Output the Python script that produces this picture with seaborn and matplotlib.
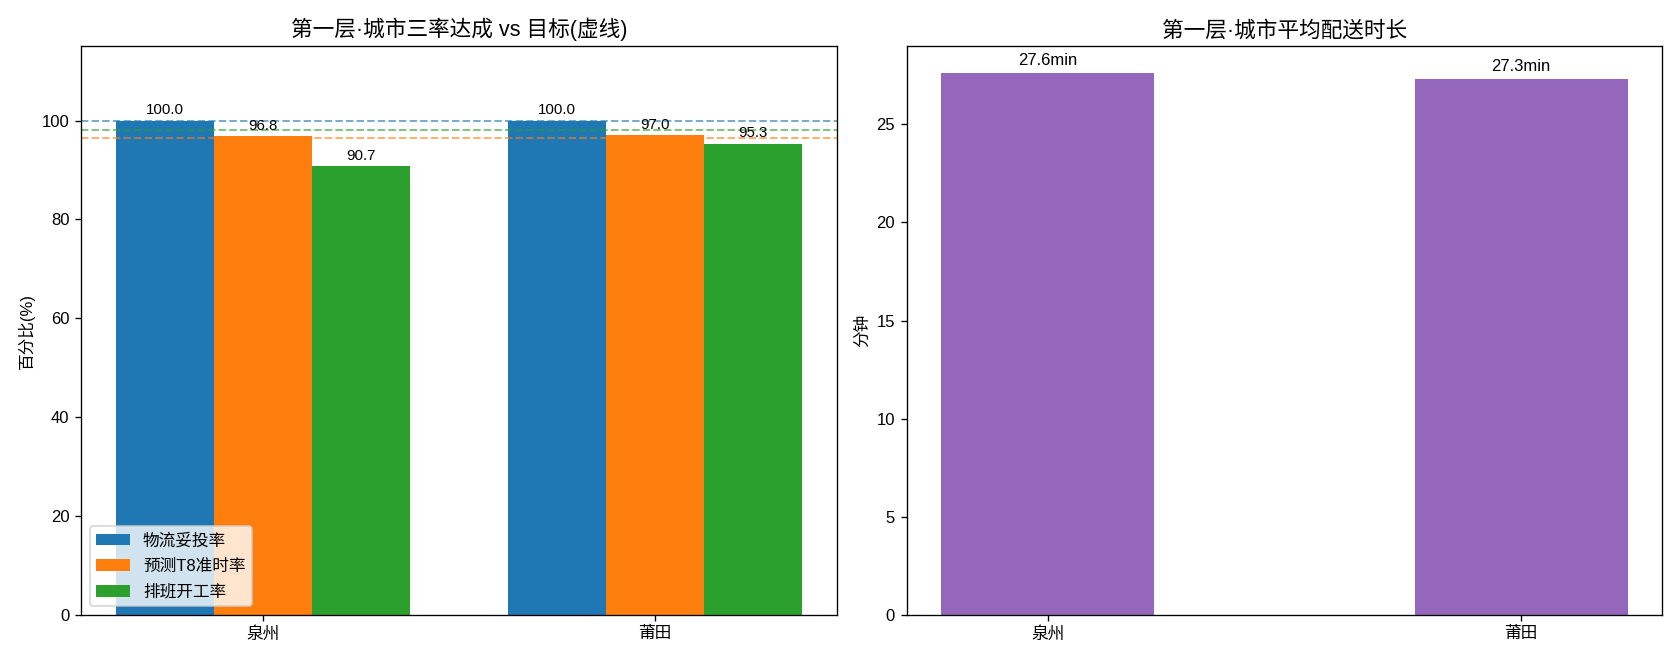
import matplotlib
matplotlib.use("Agg")
import matplotlib.pyplot as plt
import seaborn as sns
import pandas as pd

# data
cities = ['泉州', '莆田']
metrics = ['物流妥投率', '预测T8准时率', '排班开工率']
tuotou = [100.0, 100.0]
t8_ontime = [96.8, 97.0]
paiban = [90.7, 95.3]
targets = [100.0, 96.5, 98.0]
delivery_min = [27.6, 27.3]

colors = ['#1f77b4', '#ff7f0e', '#2ca02c']

plt.rcParams['font.family'] = ['Liberation Sans', 'Noto Sans CJK SC', 'DejaVu Sans']
plt.rcParams['axes.unicode_minus'] = False

rates = pd.DataFrame({
    '城市': cities * 3,
    '指标': [metrics[0]] * 2 + [metrics[1]] * 2 + [metrics[2]] * 2,
    '值': tuotou + t8_ontime + paiban,
})
times = pd.DataFrame({'城市': cities, '分钟': delivery_min})

fig, (ax1, ax2) = plt.subplots(1, 2, figsize=(14, 5.5), dpi=120)

# left: three rates grouped by city, targets as dashed lines
sns.barplot(data=rates, x='城市', y='值', hue='指标', hue_order=metrics,
            palette=colors, saturation=1, width=0.75, errorbar=None, ax=ax1)
for c in ax1.containers:
    ax1.bar_label(c, fmt='%.1f', fontsize=9, padding=2)
for t, col in zip(targets, colors):
    ax1.axhline(t, color=col, linestyle='--', linewidth=1.2, alpha=0.6)
ax1.set_xlim(-0.4625, 1.4625)
ax1.set_ylim(0, 115)
ax1.set_xlabel('')
ax1.set_ylabel('百分比(%)')
ax1.set_title('第一层·城市三率达成 vs 目标(虚线)', fontsize=13)
ax1.legend(loc='lower left', fontsize=10, labelspacing=0.62)

# right: average delivery time
sns.barplot(data=times, x='城市', y='分钟', color='#9467bd', saturation=1,
            width=0.45, errorbar=None, ax=ax2)
ax2.bar_label(ax2.containers[0], labels=[f'{v:.1f}min' for v in delivery_min],
              fontsize=10, padding=3)
ax2.set_xlim(-0.2975, 1.2975)
ax2.set_ylim(0, max(delivery_min) * 1.05)
ax2.set_xlabel('')
ax2.set_ylabel('分钟')
ax2.set_title('第一层·城市平均配送时长', fontsize=13)

plt.tight_layout()
plt.savefig('out.png', dpi=120)
